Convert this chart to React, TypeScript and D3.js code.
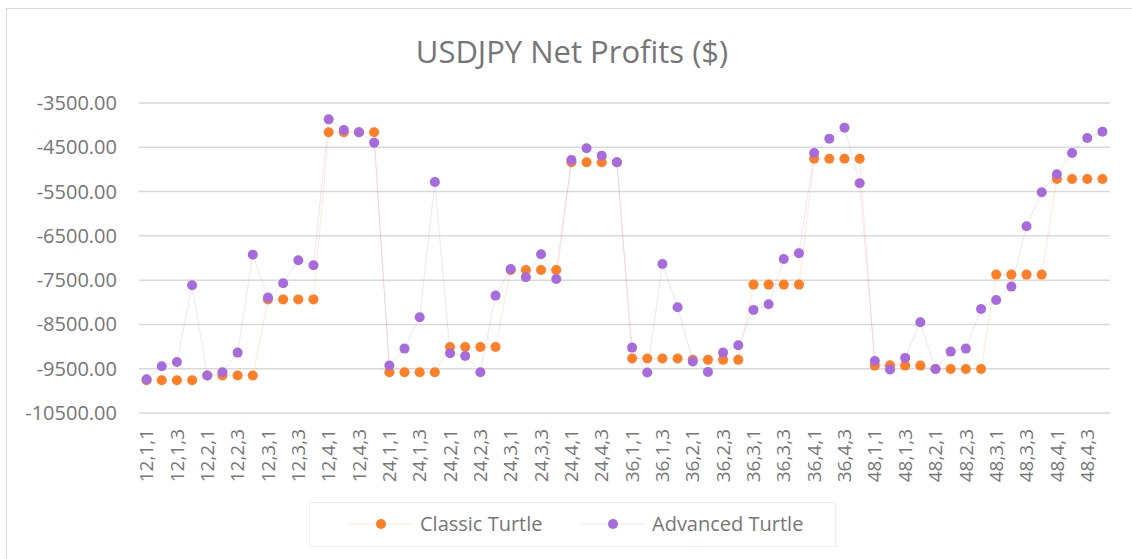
import React, { useEffect, useRef } from 'react';
import * as d3 from 'd3';

// category labels (period, entry, exit)
const categories = [
  '12,1,1', '12,1,2', '12,1,3', '12,1,4', '12,2,1', '12,2,2', '12,2,3', '12,2,4',
  '12,3,1', '12,3,2', '12,3,3', '12,3,4', '12,4,1', '12,4,2', '12,4,3', '12,4,4',
  '24,1,1', '24,1,2', '24,1,3', '24,1,4', '24,2,1', '24,2,2', '24,2,3', '24,2,4',
  '24,3,1', '24,3,2', '24,3,3', '24,3,4', '24,4,1', '24,4,2', '24,4,3', '24,4,4',
  '36,1,1', '36,1,2', '36,1,3', '36,1,4', '36,2,1', '36,2,2', '36,2,3', '36,2,4',
  '36,3,1', '36,3,2', '36,3,3', '36,3,4', '36,4,1', '36,4,2', '36,4,3', '36,4,4',
  '48,1,1', '48,1,2', '48,1,3', '48,1,4', '48,2,1', '48,2,2', '48,2,3', '48,2,4',
  '48,3,1', '48,3,2', '48,3,3', '48,3,4', '48,4,1', '48,4,2', '48,4,3', '48,4,4',
];

const classicTurtle = [
  -9760, -9760, -9760, -9760, -9655, -9655, -9655, -9655,
  -7935, -7935, -7935, -7935, -4162, -4162, -4162, -4162,
  -9580, -9580, -9580, -9580, -9008, -9008, -9008, -9008,
  -7270, -7270, -7270, -7270, -4839, -4839, -4839, -4839,
  -9271, -9271, -9271, -9271, -9300, -9300, -9300, -9300,
  -7601, -7601, -7601, -7601, -4757, -4757, -4757, -4757,
  -9430, -9420, -9430, -9430, -9505, -9505, -9505, -9505,
  -7375, -7375, -7375, -7375, -5216, -5216, -5216, -5216,
];

const advancedTurtle = [
  -9738, -9444, -9347, -7616, -9655, -9580, -9136, -6924,
  -7894, -7570, -7051, -7164, -3869, -4109, -4162, -4395,
  -9429, -9046, -8338, -5283, -9150, -9211, -9580, -7849,
  -7247, -7435, -6916, -7473, -4787, -4523, -4689, -4839,
  -9023, -9587, -7136, -8112, -9338, -9572, -9136, -8970,
  -8172, -8044, -7021, -6893, -4629, -4305, -4057, -5313,
  -9324, -9519, -9256, -8451, -9505, -9114, -9046, -8150,
  -7947, -7646, -6284, -5517, -5110, -4629, -4290, -4147,
];

const yTicks = [-3500, -4500, -5500, -6500, -7500, -8500, -9500, -10500];

const series = [
  { name: 'Classic Turtle', values: classicTurtle, color: '#FF7F27' },
  { name: 'Advanced Turtle', values: advancedTurtle, color: '#A86BDD' },
];

const App = () => {
  const svgRef = useRef<SVGSVGElement>(null);

  useEffect(() => {
    document.body.style.margin = '0';
    const svg = d3.select(svgRef.current);
    svg.selectAll('*').remove();

    const width = 1132;
    const height = 559;
    const textColor = '#767676';
    const font = '"Open Sans", sans-serif';

    svg.attr('width', width).attr('height', height).style('font-family', font);

    // chart frame
    svg.append('rect')
      .attr('x', 6.5).attr('y', 8.5)
      .attr('width', width).attr('height', height)
      .attr('fill', '#fff')
      .attr('stroke', '#d9d9d9');

    const x = d3.scalePoint<string>().domain(categories).range([139, 1110]).padding(0.5);
    const y = d3.scaleLinear().domain([-10500, -3500]).range([413, 103]);

    // title
    svg.append('text')
      .attr('x', 572).attr('y', 63)
      .attr('text-anchor', 'middle')
      .attr('fill', textColor)
      .style('font-size', '31px')
      .text('USDJPY Net Profits ($)');

    // gridlines + y labels
    const grid = svg.append('g');
    grid.selectAll('line')
      .data(yTicks)
      .join('line')
      .attr('x1', 139).attr('x2', 1110)
      .attr('y1', (d) => y(d)).attr('y2', (d) => y(d))
      .attr('stroke', '#d9d9d9')
      .attr('stroke-width', 1.5);

    grid.selectAll('text')
      .data(yTicks)
      .join('text')
      .attr('x', 117)
      .attr('y', (d) => y(d))
      .attr('dy', '0.35em')
      .attr('text-anchor', 'end')
      .attr('fill', textColor)
      .style('font-size', '20px')
      .text((d) => d.toFixed(2));

    // x labels, every other category
    svg.append('g')
      .selectAll('text')
      .data(categories.filter((_, i) => i % 2 === 0))
      .join('text')
      .attr('transform', (d) => `translate(${x(d)},429) rotate(-90)`)
      .attr('dy', '0.35em')
      .attr('text-anchor', 'end')
      .attr('fill', textColor)
      .style('font-size', '19px')
      .text((d) => d);

    // series
    const line = d3.line<number>()
      .x((_, i) => x(categories[i]) as number)
      .y((d) => y(d));

    series.forEach((s) => {
      svg.append('path')
        .datum(s.values)
        .attr('d', line)
        .attr('fill', 'none')
        .attr('stroke', s.color)
        .attr('stroke-opacity', 0.18)
        .attr('stroke-width', 1);
    });

    series.forEach((s) => {
      svg.append('g')
        .selectAll('circle')
        .data(s.values)
        .join('circle')
        .attr('cx', (_, i) => x(categories[i]) as number)
        .attr('cy', (d) => y(d))
        .attr('r', 5)
        .attr('fill', s.color);
    });

    // legend
    const legend = svg.append('g');
    legend.append('rect')
      .attr('x', 309.5).attr('y', 502.5)
      .attr('width', 526).attr('height', 44)
      .attr('fill', 'none')
      .attr('stroke', '#f0f0f0');

    const items = [
      { s: series[0], lx: 349 },
      { s: series[1], lx: 581 },
    ];
    items.forEach(({ s, lx }) => {
      legend.append('line')
        .attr('x1', lx).attr('x2', lx + 64)
        .attr('y1', 524).attr('y2', 524)
        .attr('stroke', s.color)
        .attr('stroke-opacity', 0.18);
      legend.append('circle')
        .attr('cx', lx + 32).attr('cy', 524)
        .attr('r', 5)
        .attr('fill', s.color);
      legend.append('text')
        .attr('x', lx + 71).attr('y', 524)
        .attr('dy', '0.35em')
        .attr('fill', textColor)
        .style('font-size', '20px')
        .text(s.name);
    });
  }, []);

  return <svg ref={svgRef} style={{ display: 'block' }} />;
};

export default App;
